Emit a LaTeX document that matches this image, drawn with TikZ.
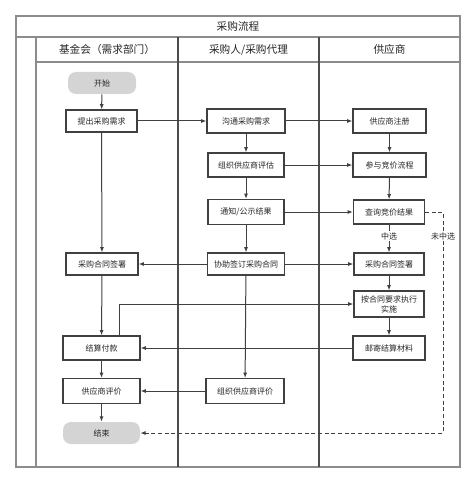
\documentclass[tikz,border=0pt]{standalone}
\usepackage{fontspec}
\setmainfont{Noto Sans CJK SC}
\usetikzlibrary{arrows.meta,calc}
\begin{document}
\begin{tikzpicture}[x=0.75pt,y=-0.75pt,
  frame/.style={draw=black!45,line width=0.8pt},
  lane/.style={draw=black!70,line width=0.8pt},
  hdr/.style={font=\fontsize{8}{9}\selectfont,text=black!85},
  sz/.style 2 args={minimum width=#1*0.75pt,minimum height=#2*0.75pt},
  box/.style={draw=black!75,line width=0.8pt,fill=white,font=\fontsize{6}{7.5}\selectfont,text=black!85,inner sep=1pt,align=center},
  term/.style={fill=black!17,rounded corners=6pt,font=\fontsize{6}{7.5}\selectfont,text=black!85,inner sep=1pt},
  arr/.style={draw=black!75,line width=0.75pt,-{Latex[length=4pt,width=3pt]}},
  dsh/.style={draw=black!75,line width=0.75pt,dashed,dash pattern=on 3pt off 2pt,-{Latex[length=4pt,width=3pt]}},
  lbl/.style={fill=white,font=\fontsize{6}{7}\selectfont,text=black!85,inner sep=0.8pt}]
\useasboundingbox (0,0) rectangle (474,481);
% frame
\draw[frame] (16,16) rectangle (460,467);
\draw[frame] (16,37) -- (460,37);
\draw[frame] (36,37) -- (36,467);
\draw[frame] (36,62) -- (460,62);
\draw[lane] (178,37) -- (178,467);
\draw[lane] (319,37) -- (319,467);
\node[hdr] (title) at (238,26.5) {采购流程};
\node[hdr] (h1) at (107,49.5) {基金会（需求部门）};
\node[hdr] (h2) at (248.5,49.5) {采购人/采购代理};
\node[hdr] (h3) at (389.5,49.5) {供应商};
% nodes
\node[term,sz={68}{22}] (start) at (102,83) {开始};
\node[box,sz={71}{22}] (tc) at (101.5,121) {提出采购需求};
\node[box,sz={78}{24}] (gt) at (246,121) {沟通采购需求};
\node[box,sz={76}{24}] (pg) at (246,165) {组织供应商评估};
\node[box,sz={76}{25}] (tz) at (246,212) {通知/公示结果};
\node[box,sz={73}{24}] (zc) at (389.5,121) {供应商注册};
\node[box,sz={73}{24}] (cy) at (389.5,165) {参与竞价流程};
\node[box,sz={71}{24}] (cx) at (389,212) {查询竞价结果};
\node[box,sz={72}{22}] (lht) at (102,264) {采购合同签署};
\node[box,sz={77}{22}] (xz) at (246,264) {协助签订采购合同};
\node[box,sz={70}{22}] (sht) at (389,264) {采购合同签署};
\node[box,sz={70}{26}] (zx) at (389,304) {按合同要求执行\\实施};
\node[box,sz={72}{24}] (yj) at (389,348) {邮寄结算材料};
\node[box,sz={77}{24}] (js) at (101.5,348) {结算付款};
\node[box,sz={77}{25}] (pj) at (101.5,391) {供应商评价};
\node[box,sz={78}{25}] (zpj) at (245,391) {组织供应商评价};
\node[term,sz={77}{22}] (end) at (101.5,433) {结束};
% connectors
\draw[arr] (start) -- (tc);
\draw[arr] (tc) -- (gt);
\draw[arr] (tc) -- (lht);
\draw[arr] (gt) -- (zc);
\draw[arr] (gt) -- (pg);
\draw[arr] (pg) -- (cy);
\draw[arr] (pg) -- (tz);
\draw[arr] (tz) -- (cx);
\draw[arr] (tz) -- (xz);
\draw[arr] (zc) -- (cy);
\draw[arr] (cy) -- (cx);
\draw[arr] (cx) -- (sht);
\node[lbl] (zhong) at (389,236) {中选};
\draw[arr] (xz) -- (lht);
\draw[arr] (xz) -- (sht);
\draw[arr] (xz) -- (zpj);
\draw[arr] (sht) -- (zx);
\draw[arr] (zx) -- (yj);
\draw[arr] (lht) -- (js);
\draw[arr] ([xshift=17.5*0.75pt]js.north) |- (zx.west);
\draw[arr] (yj) -- (js);
\draw[arr] (js) -- (pj);
\draw[arr] (zpj) -- (pj);
\draw[arr] (pj) -- (end);
\coordinate (d1) at (443,212);
\coordinate (d2) at (443,433);
\draw[dsh] (cx.east) -- (d1) -- (d2) -- (end.east);
\node[lbl] (wzx) at (443,236) {未中选};
\end{tikzpicture}
\end{document}
